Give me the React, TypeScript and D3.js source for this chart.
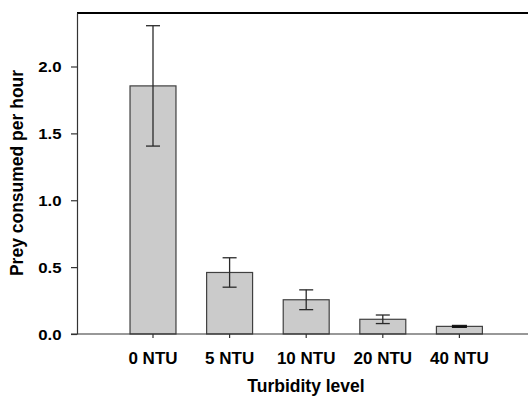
import { useEffect, useRef } from "react";
import * as d3 from "d3";

const categories = ["0 NTU", "5 NTU", "10 NTU", "20 NTU", "40 NTU"];
const means = [1.855, 0.46, 0.256, 0.11, 0.057];
const errors = [0.45, 0.11, 0.074, 0.032, 0.008];
const yTicks = [0, 0.5, 1.0, 1.5, 2.0];

export default function App() {
  const ref = useRef<SVGSVGElement>(null);

  useEffect(() => {
    const width = 528;
    const height = 397;
    const marginLeft = 77;
    const marginTop = 13;
    const axisY = 334;

    const svg = d3.select(ref.current);
    svg.selectAll("*").remove();

    const data = categories.map((c, i) => ({ cat: c, mean: means[i], err: errors[i] }));

    const x = d3.scaleBand<string>()
      .domain(categories)
      .range([114.7, 497.7])
      .paddingInner(0.4)
      .paddingOuter(0.2);

    const y = d3.scaleLinear().domain([0, 2.4]).range([axisY, marginTop]);

    const font = "Liberation Sans, Arial, Helvetica, sans-serif";

    // top frame line
    svg.append("line")
      .attr("x1", marginLeft).attr("x2", width)
      .attr("y1", marginTop).attr("y2", marginTop)
      .attr("stroke", "#000").attr("stroke-width", 2);

    // bars
    svg.append("g")
      .selectAll("rect")
      .data(data)
      .join("rect")
      .attr("x", d => x(d.cat)!)
      .attr("y", d => y(d.mean))
      .attr("width", x.bandwidth())
      .attr("height", d => y(0) - y(d.mean))
      .attr("fill", "#cbcbcb")
      .attr("stroke", "#404040")
      .attr("stroke-width", 1.2);

    // error bars
    const eb = svg.append("g").attr("stroke", "#2a2a2a").attr("stroke-width", 1.3);
    data.forEach(d => {
      const cx = x(d.cat)! + x.bandwidth() / 2;
      const capW = 7;
      if (d.err < 0.02) {
        eb.append("rect")
          .attr("x", cx - capW).attr("width", capW * 2)
          .attr("y", y(d.mean + d.err)).attr("height", y(d.mean - d.err) - y(d.mean + d.err))
          .attr("fill", "#111").attr("stroke", "#111").attr("stroke-width", 1);
        return;
      }
      eb.append("line")
        .attr("x1", cx).attr("x2", cx)
        .attr("y1", y(d.mean + d.err)).attr("y2", y(d.mean - d.err));
      [d.mean + d.err, d.mean - d.err].forEach(v => {
        eb.append("line")
          .attr("x1", cx - capW).attr("x2", cx + capW)
          .attr("y1", y(v)).attr("y2", y(v));
      });
    });

    // y axis
    const yAxis = svg.append("g")
      .attr("transform", `translate(${marginLeft},0)`)
      .call(d3.axisLeft(y).tickValues(yTicks).tickFormat(d3.format(".1f")).tickSize(6).tickSizeOuter(0).tickPadding(0));
    yAxis.select("path.domain").attr("stroke", "#333").attr("stroke-width", 1.2);
    yAxis.selectAll(".tick line").attr("stroke", "#333").attr("stroke-width", 1.2);
    yAxis.selectAll(".tick text").remove();
    yAxis.selectAll(".tick")
      .append("text")
      .attr("transform", "translate(-15.5,5) scale(1.2,1)")
      .attr("text-anchor", "end")
      .attr("fill", "#000")
      .attr("font-family", font)
      .attr("font-weight", "bold")
      .attr("font-size", 14)
      .text(d => d3.format(".1f")(d as number));

    // x axis line
    svg.append("line")
      .attr("x1", 71).attr("x2", width)
      .attr("y1", axisY).attr("y2", axisY)
      .attr("stroke", "#333").attr("stroke-width", 1.2);

    const xAxis = svg.append("g")
      .attr("transform", `translate(0,${axisY})`)
      .call(d3.axisBottom(x).tickSize(4).tickSizeOuter(0).tickPadding(14));
    xAxis.select("path.domain").remove();
    xAxis.selectAll(".tick line").attr("stroke", "#333").attr("stroke-width", 1.2);
    xAxis.selectAll(".tick text")
      .attr("fill", "#000")
      .attr("font-family", font)
      .attr("font-weight", "bold")
      .attr("font-size", 17);

    // axis titles
    svg.append("text")
      .attr("transform", `translate(23,173) rotate(-90)`)
      .attr("text-anchor", "middle")
      .attr("font-family", font)
      .attr("font-weight", "bold")
      .attr("font-size", 17.5)
      .attr("fill", "#000")
      .text("Prey consumed per hour");

    svg.append("text")
      .attr("x", 306)
      .attr("y", 392)
      .attr("text-anchor", "middle")
      .attr("font-family", font)
      .attr("font-weight", "bold")
      .attr("font-size", 17.5)
      .attr("fill", "#000")
      .text("Turbidity level");

    svg.attr("width", width).attr("height", height);
  }, []);

  return (
    <svg
      ref={ref}
      width={528}
      height={397}
      style={{ position: "absolute", left: 0, top: 0, background: "#fff" }}
    />
  );
}
